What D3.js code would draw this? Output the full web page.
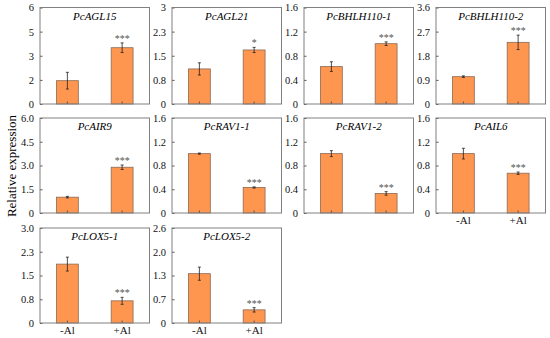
<!DOCTYPE html>
<html>
<head>
<meta charset="utf-8">
<script src="https://cdn.jsdelivr.net/npm/d3@7"></script>
<style>
  body { margin: 0; background: #fff; }
  svg { display: block; }
  text { font-family: "Liberation Serif", "Times New Roman", serif; }
</style>
</head>
<body>
<div id="chart"></div>
<script>
// gene panels, left to right, top to bottom
const genes = ["PcAGL15", "PcAGL21", "PcBHLH110-1", "PcBHLH110-2",
               "PcAIR9", "PcRAV1-1", "PcRAV1-2", "PcAIL6",
               "PcLOX5-1", "PcLOX5-2"];
const treatments = ["-Al", "+Al"];
const minusAl    = [1.45, 1.09, 0.62, 1.02, 1.00, 1.00, 1.00, 1.00, 1.86, 1.35];
const minusAlErr = [0.52, 0.19, 0.08, 0.03, 0.05, 0.01, 0.05, 0.09, 0.22, 0.18];
const plusAl     = [3.50, 1.68, 1.00, 2.30, 2.89, 0.43, 0.33, 0.67, 0.70, 0.36];
const plusAlErr  = [0.30, 0.08, 0.03, 0.27, 0.14, 0.01, 0.03, 0.02, 0.11, 0.06];
const stars      = ["***", "*", "***", "***", "***", "***", "***", "***", "***", "***"];
const yMax       = [6, 3, 1.6, 3.6, 6, 1.6, 1.6, 1.6, 3, 2.6];
const tickLabels = [
  ["0", "2", "3", "5", "6"],
  ["0", "0.8", "1.5", "2.3", "3"],
  ["0", "0.4", "0.8", "1.2", "1.6"],
  ["0", "0.9", "1.8", "2.7", "3.6"],
  ["0", "1.5", "3.0", "4.5", "6.0"],
  ["0", "0.4", "0.8", "1.2", "1.6"],
  ["0", "0.4", "0.8", "1.2", "1.6"],
  ["0", "0.4", "0.8", "1.2", "1.6"],
  ["0", "0.8", "1.5", "2.3", "3.0"],
  ["0", "0.7", "1.3", "2.0", "2.6"]
];
// panels that carry x labels
const showXLabels = [false, false, false, false, false, false, false, true, true, true];

const colLeft = [40, 172, 304, 436];
const rowTop = [7.5, 118, 228];
const rowHeight = [96.5, 95, 95];
const panelWidth = 109.5;

const svg = d3.select("#chart").append("svg")
    .attr("width", 550)
    .attr("height", 338);

// y axis title
svg.append("text")
    .attr("transform", "translate(16,166) rotate(-90)")
    .attr("text-anchor", "middle")
    .style("font-size", "13px")
    .text("Relative expression");

genes.forEach((gene, i) => {
    const col = i % 4, row = Math.floor(i / 4);
    const w = panelWidth, h = rowHeight[row];
    const g = svg.append("g")
        .attr("transform", "translate(" + colLeft[col] + "," + rowTop[row] + ")");

    const x = d3.scaleBand().domain(treatments).range([0, w])
        .paddingInner(0.6).paddingOuter(0.3);
    const y = d3.scaleLinear().domain([0, yMax[i]]).range([h, 0]);

    const vals = [
        {t: "-Al", v: minusAl[i], e: minusAlErr[i]},
        {t: "+Al", v: plusAl[i], e: plusAlErr[i]}
    ];

    // bars
    g.selectAll(".bar").data(vals).join("rect")
        .attr("class", "bar")
        .attr("x", d => x(d.t))
        .attr("width", x.bandwidth())
        .attr("y", d => y(d.v))
        .attr("height", d => h - y(d.v))
        .attr("fill", "#ff9650")
        .attr("stroke", "#8a6a55")
        .attr("stroke-width", 0.8);

    // error bars
    const cx = d => x(d.t) + x.bandwidth() / 2;
    g.selectAll(".err").data(vals).join("line")
        .attr("class", "err")
        .attr("x1", cx).attr("x2", cx)
        .attr("y1", d => y(d.v - d.e)).attr("y2", d => y(d.v + d.e))
        .attr("stroke", "#222").attr("stroke-width", 0.8);
    g.selectAll(".cap").data(vals.flatMap(d => [[d, d.v - d.e], [d, d.v + d.e]])).join("line")
        .attr("class", "cap")
        .attr("x1", d => cx(d[0]) - 1.5).attr("x2", d => cx(d[0]) + 1.5)
        .attr("y1", d => y(d[1])).attr("y2", d => y(d[1]))
        .attr("stroke", "#222").attr("stroke-width", 0.8);

    // significance
    g.append("text")
        .attr("x", cx(vals[1]))
        .attr("y", y(vals[1].v + vals[1].e) - 1)
        .attr("text-anchor", "middle")
        .attr("fill", "#555")
        .style("font-size", "10px")
        .text(stars[i]);

    // axes
    const yAxis = d3.axisLeft(y)
        .tickValues(d3.range(5).map(k => k * yMax[i] / 4))
        .tickFormat((d, k) => tickLabels[i][k])
        .tickSize(-2.5).tickPadding(6);
    const ya = g.append("g").call(yAxis);
    ya.select(".domain").remove();
    ya.selectAll("text").style("font-size", "10.5px").style("font-family", "Liberation Serif").attr("fill", "#111");
    ya.selectAll("line").attr("stroke", "#555");

    const xAxis = d3.axisBottom(x).tickSize(-2.5).tickPadding(3)
        .tickFormat(d => showXLabels[i] ? d : "");
    const xa = g.append("g").attr("transform", "translate(0," + h + ")").call(xAxis);
    xa.select(".domain").remove();
    xa.selectAll("text").style("font-size", "11px").style("font-family", "Liberation Serif").attr("fill", "#111");
    xa.selectAll("line").attr("stroke", "#555");

    // frame
    g.append("rect")
        .attr("width", w).attr("height", h)
        .attr("fill", "none")
        .attr("stroke", "#808080")
        .attr("stroke-width", 1);

    // title
    g.append("text")
        .attr("x", w / 2).attr("y", 12)
        .attr("text-anchor", "middle")
        .style("font-size", "11px")
        .style("font-style", "italic")
        .text(gene);
});
</script>
</body>
</html>
